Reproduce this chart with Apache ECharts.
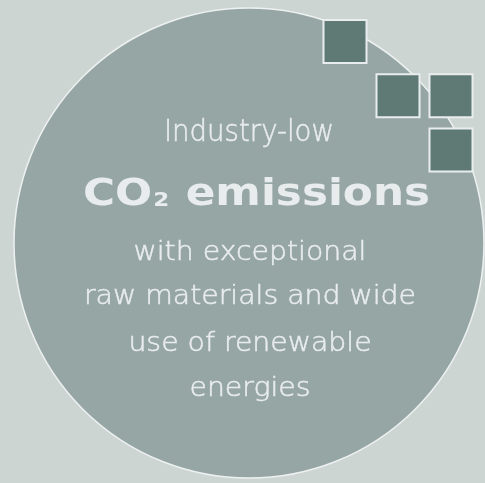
<!DOCTYPE html>
<html>
<head>
<meta charset="utf-8">
<script src="https://cdn.jsdelivr.net/npm/echarts@6/dist/echarts.min.js"></script>
<style>
html,body{margin:0;padding:0;background:#cdd5d3;}
#c{width:485px;height:483px;}
</style>
</head>
<body>
<div id="c"></div>
<script>
// Content
const circleValue = [1];
const squareCells = [[0, 0], [1, 1], [2, 1], [2, 2]]; // [column, row]
const headLine = 'Industry-low';
const titleMain = '{b|CO}{s|2}{b| emissions}';
const bodyLines = ['with exceptional', 'raw materials and wide', 'use of renewable', 'energies'];

const chart = echarts.init(document.getElementById('c'), null, {renderer: 'canvas'});
const textColor = '#e8ecec';
const font = '"DejaVu Sans", sans-serif';

const bodyY = [253.7, 297.7, 344.7, 389.7];
const graphics = [
  {type: 'text', x: 249, y: 133.5, scaleX: 0.92, z: 10, style: {text: headLine, fill: textColor, stroke: textColor, lineWidth: 0.5, font: '200 30px ' + font, textAlign: 'center', textVerticalAlign: 'middle'}},
  {type: 'text', x: 256.5, y: 195.4, scaleX: 1.15, z: 10, style: {text: titleMain, fill: textColor, textAlign: 'center', textVerticalAlign: 'middle',
    rich: {b: {fontFamily: font, fontWeight: 'bold', fontSize: 38, fill: textColor, color: textColor}, s: {fontFamily: font, fontWeight: 'bold', fontSize: 20, color: textColor, fill: textColor, padding: [10, 1, 0, 1]}}}}
];
bodyLines.forEach((t, i) => {
  graphics.push({type: 'text', x: 250, y: bodyY[i], scaleX: 1.09, z: 10, style: {text: t, fill: textColor, stroke: textColor, lineWidth: 0.5, font: '200 26px ' + font, textAlign: 'center', textVerticalAlign: 'middle'}});
});

chart.setOption({
  backgroundColor: '#cdd5d3',
  animation: false,
  grid: {left: 345, top: 41.5, width: 106, height: 108.5, containLabel: false},
  xAxis: {type: 'value', min: 0, max: 2, show: false},
  yAxis: {type: 'value', min: 0, max: 2, inverse: true, show: false},
  series: [
    {
      type: 'pie', silent: true, center: [249, 243], radius: 235, z: 1,
      label: {show: false}, labelLine: {show: false},
      itemStyle: {color: '#96a6a4', borderColor: '#eef1f1', borderWidth: 1.5},
      data: circleValue.map(v => ({value: v}))
    },
    {
      type: 'scatter', silent: true, symbol: 'rect', symbolSize: 43, z: 5,
      itemStyle: {color: '#5f7a75', borderColor: '#e9eded', borderWidth: 2, opacity: 1},
      data: squareCells
    }
  ],
  graphic: graphics
});
</script>
</body>
</html>
